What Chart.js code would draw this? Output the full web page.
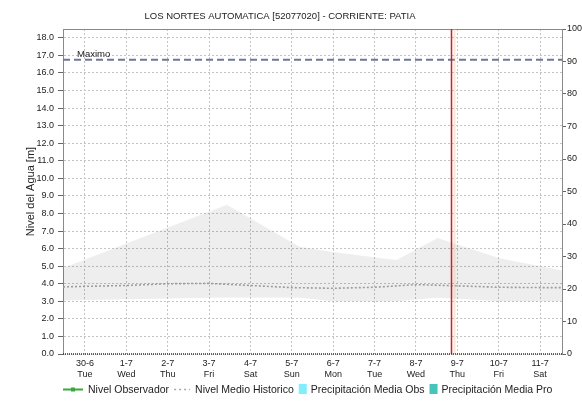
<!DOCTYPE html>
<html>
<head>
<meta charset="utf-8">
<script src="https://cdn.jsdelivr.net/npm/chart.js@4.4.0/dist/chart.umd.min.js"></script>
<style>
  html, body { margin: 0; padding: 0; background: #ffffff; }
  #wrap { position: relative; width: 582px; height: 407px; }
</style>
</head>
<body>
<div id="wrap"><canvas id="c" width="582" height="407"></canvas></div>
<script>
// Station and axis text
const chartTitle = 'LOS NORTES AUTOMATICA [52077020] - CORRIENTE: PATIA';
const yTitle = 'Nivel del Agua [m]';
const dayLabels = ['30-6', '1-7', '2-7', '3-7', '4-7', '5-7', '6-7', '7-7', '8-7', '9-7', '10-7', '11-7'];
const weekdays = ['Tue', 'Wed', 'Thu', 'Fri', 'Sat', 'Sun', 'Mon', 'Tue', 'Wed', 'Thu', 'Fri', 'Sat'];

// Historic min/max envelope (days counted from 30-6)
const bandDays = [-0.53, 3.43, 5.19, 5.99, 7.53, 8.52, 10.02, 11.53];
const bandUpper = [4.9, 8.5, 6.1, 5.8, 5.35, 6.6, 5.45, 4.75];
const bandLower = [3.05, 3.22, 3.2, 3.0, 3.0, 3.2, 3.0, 3.0];

// Historic mean level
const historicDays = [-0.53, 0, 1, 2, 3, 4, 5, 6, 7, 8, 9, 10, 11, 11.53];
const historicLevel = [3.82, 3.85, 3.9, 4.0, 4.02, 3.9, 3.78, 3.74, 3.8, 3.95, 3.88, 3.8, 3.78, 3.78];

// Observed level and precipitation (no readings in this window)
const observedLevel = [];
const precipObs = [];
const precipPro = [];

// Reference values
const maximoLevel = 16.75;
const currentDay = 8.85;
const xMin = -0.53, xMax = 11.53;
const levelMax = 18.5, precipMax = 100;

const FONT = "'Liberation Sans', Arial, sans-serif";
const toXY = (xs, ys) => xs.map((x, i) => ({ x: x, y: ys[i] }));
const onlyIntegers = (lo, hi) => (scale) => {
  scale.ticks = scale.ticks.filter(t => Math.abs(t.value - Math.round(t.value)) < 1e-6 && t.value >= lo && t.value <= hi);
};

// Title, frame, reference lines and legend
const decorations = {
  id: 'decorations',
  beforeDatasetsDraw(chart) {
    const { ctx, chartArea: a } = chart;
    ctx.save();
    ctx.strokeStyle = '#8a8a8a';
    ctx.lineWidth = 1;
    ctx.beginPath();
    ctx.moveTo(a.left, a.top + 0.5);
    ctx.lineTo(a.right, a.top + 0.5);
    ctx.stroke();
    ctx.restore();
  },
  afterDatasetsDraw(chart) {
    const { ctx, chartArea: a, scales } = chart;
    const y = scales.y, x = scales.x;
    ctx.save();
    // Maximo line
    const my = y.getPixelForValue(maximoLevel);
    ctx.strokeStyle = '#6c7896';
    ctx.lineWidth = 2;
    ctx.setLineDash([7, 4]);
    ctx.beginPath();
    ctx.moveTo(a.left, my);
    ctx.lineTo(a.right, my);
    ctx.stroke();
    ctx.setLineDash([]);
    ctx.fillStyle = '#222';
    ctx.font = '9.5px ' + FONT;
    ctx.textBaseline = 'alphabetic';
    ctx.textAlign = 'left';
    ctx.fillText('Maximo', 77, my - 3);
    // current time marker
    const cx = Math.round(x.getPixelForValue(currentDay)) + 0.5;
    ctx.strokeStyle = 'rgba(255,180,130,0.35)';
    ctx.lineWidth = 2;
    ctx.beginPath();
    ctx.moveTo(cx + 3, a.top);
    ctx.lineTo(cx + 3, a.bottom);
    ctx.stroke();
    ctx.strokeStyle = '#c8202c';
    ctx.lineWidth = 1.5;
    ctx.beginPath();
    ctx.moveTo(cx, a.top);
    ctx.lineTo(cx, a.bottom);
    ctx.stroke();
    // bottom axis line
    ctx.strokeStyle = '#333';
    ctx.lineWidth = 1.5;
    ctx.setLineDash([1, 1]);
    ctx.beginPath();
    ctx.moveTo(a.left, a.bottom);
    ctx.lineTo(a.right, a.bottom);
    ctx.stroke();
    ctx.restore();
  },
  afterDraw(chart) {
    const { ctx } = chart;
    ctx.save();
    ctx.fillStyle = '#222';
    ctx.font = '9.5px ' + FONT;
    ctx.textAlign = 'center';
    ctx.textBaseline = 'middle';
    ctx.fillText(chartTitle, 280, 16);

    // legend row
    const ly = 389;
    ctx.font = '10.5px ' + FONT;
    ctx.textAlign = 'left';
    let lx = 63;
    chart.data.datasets.forEach(ds => {
      if (!ds.legendKind) return;
      if (ds.legendKind === 'line') {
        ctx.strokeStyle = ds.borderColor;
        ctx.lineWidth = 2;
        ctx.setLineDash([]);
        ctx.beginPath();
        ctx.moveTo(lx, ly + 0.5);
        ctx.lineTo(lx + 20, ly + 0.5);
        ctx.stroke();
        ctx.fillStyle = ds.borderColor;
        ctx.fillRect(lx + 8, ly - 1.5, 4, 4);
        lx += 25;
      } else if (ds.legendKind === 'dots') {
        ctx.strokeStyle = ds.borderColor;
        ctx.lineWidth = 1.5;
        ctx.setLineDash([2, 3]);
        ctx.beginPath();
        ctx.moveTo(lx, ly + 0.5);
        ctx.lineTo(lx + 16, ly + 0.5);
        ctx.stroke();
        ctx.setLineDash([]);
        lx += 21;
      } else {
        ctx.fillStyle = ds.backgroundColor;
        ctx.fillRect(lx, ly - 5, 8, 10);
        lx += 12;
      }
      ctx.fillStyle = '#222';
      ctx.fillText(ds.label, lx, ly + 1);
      lx += ctx.measureText(ds.label).width + 5;
    });
    ctx.restore();
  }
};

new Chart(document.getElementById('c'), {
  type: 'line',
  data: {
    datasets: [
      {
        label: 'Envolvente max',
        data: toXY(bandDays, bandUpper),
        borderWidth: 0,
        pointRadius: 0,
        fill: '+1',
        backgroundColor: 'rgba(0,0,0,0.065)',
        tension: 0
      },
      {
        label: 'Envolvente min',
        data: toXY(bandDays, bandLower),
        borderWidth: 0,
        pointRadius: 0,
        fill: false,
        tension: 0
      },
      {
        label: 'Nivel Observador',
        legendKind: 'line',
        data: observedLevel,
        borderColor: '#3aa83a',
        borderWidth: 2,
        pointRadius: 0
      },
      {
        label: 'Nivel Medio Historico',
        legendKind: 'dots',
        data: toXY(historicDays, historicLevel),
        borderColor: '#a8a8a8',
        borderWidth: 1.6,
        borderDash: [2, 2],
        pointRadius: 0,
        tension: 0
      },
      {
        type: 'bar',
        label: 'Precipitación Media Obs',
        legendKind: 'box',
        data: precipObs,
        yAxisID: 'y2',
        backgroundColor: '#80eefc'
      },
      {
        type: 'bar',
        label: 'Precipitación Media Pro',
        legendKind: 'box',
        data: precipPro,
        yAxisID: 'y2',
        backgroundColor: '#45c4bc'
      }
    ]
  },
  options: {
    responsive: false,
    animation: false,
    devicePixelRatio: 1,
    layout: { padding: { top: 29, bottom: 18, left: 0, right: 0 } },
    plugins: {
      legend: { display: false },
      title: { display: false },
      tooltip: { enabled: false }
    },
    scales: {
      x: {
        type: 'linear',
        min: xMin,
        max: xMax,
        offset: false,
        afterBuildTicks: onlyIntegers(0, 11),
        afterFit: (s) => { s.height = 35; },
        ticks: {
          stepSize: 1,
          includeBounds: false,
          autoSkip: false,
          maxRotation: 0,
          padding: 4,
          color: '#222',
          font: { family: FONT, size: 9 },
          callback: (v) => [dayLabels[v], weekdays[v]]
        },
        grid: { color: '#c4c4c4', lineWidth: 1, drawTicks: false, offset: false },
        border: { display: false, dash: [2, 2] }
      },
      y: {
        position: 'left',
        min: 0,
        max: levelMax,
        afterBuildTicks: onlyIntegers(0, 18),
        afterFit: (s) => { s.width = 63; },
        ticks: {
          stepSize: 1,
          includeBounds: false,
          padding: 4,
          color: '#222',
          font: { family: FONT, size: 9 },
          callback: (v) => Number(v).toFixed(1)
        },
        grid: { color: '#c4c4c4', lineWidth: 1, tickLength: 5, tickColor: '#666', tickBorderDash: [] },
        border: { display: true, color: '#8a8a8a', width: 1, dash: [2, 2] },
        title: {
          display: true,
          text: yTitle,
          color: '#222',
          font: { family: FONT, size: 11 },
          padding: { top: 24, bottom: 0 }
        }
      },
      y2: {
        position: 'right',
        min: 0,
        max: precipMax,
        afterFit: (s) => { s.width = 20; },
        ticks: {
          stepSize: 10,
          padding: 1,
          color: '#222',
          font: { family: FONT, size: 9 }
        },
        grid: { drawOnChartArea: false, tickLength: 4, tickColor: '#666' },
        border: { display: true, color: '#8a8a8a', width: 1 }
      }
    }
  },
  plugins: [decorations]
});
</script>
</body>
</html>
